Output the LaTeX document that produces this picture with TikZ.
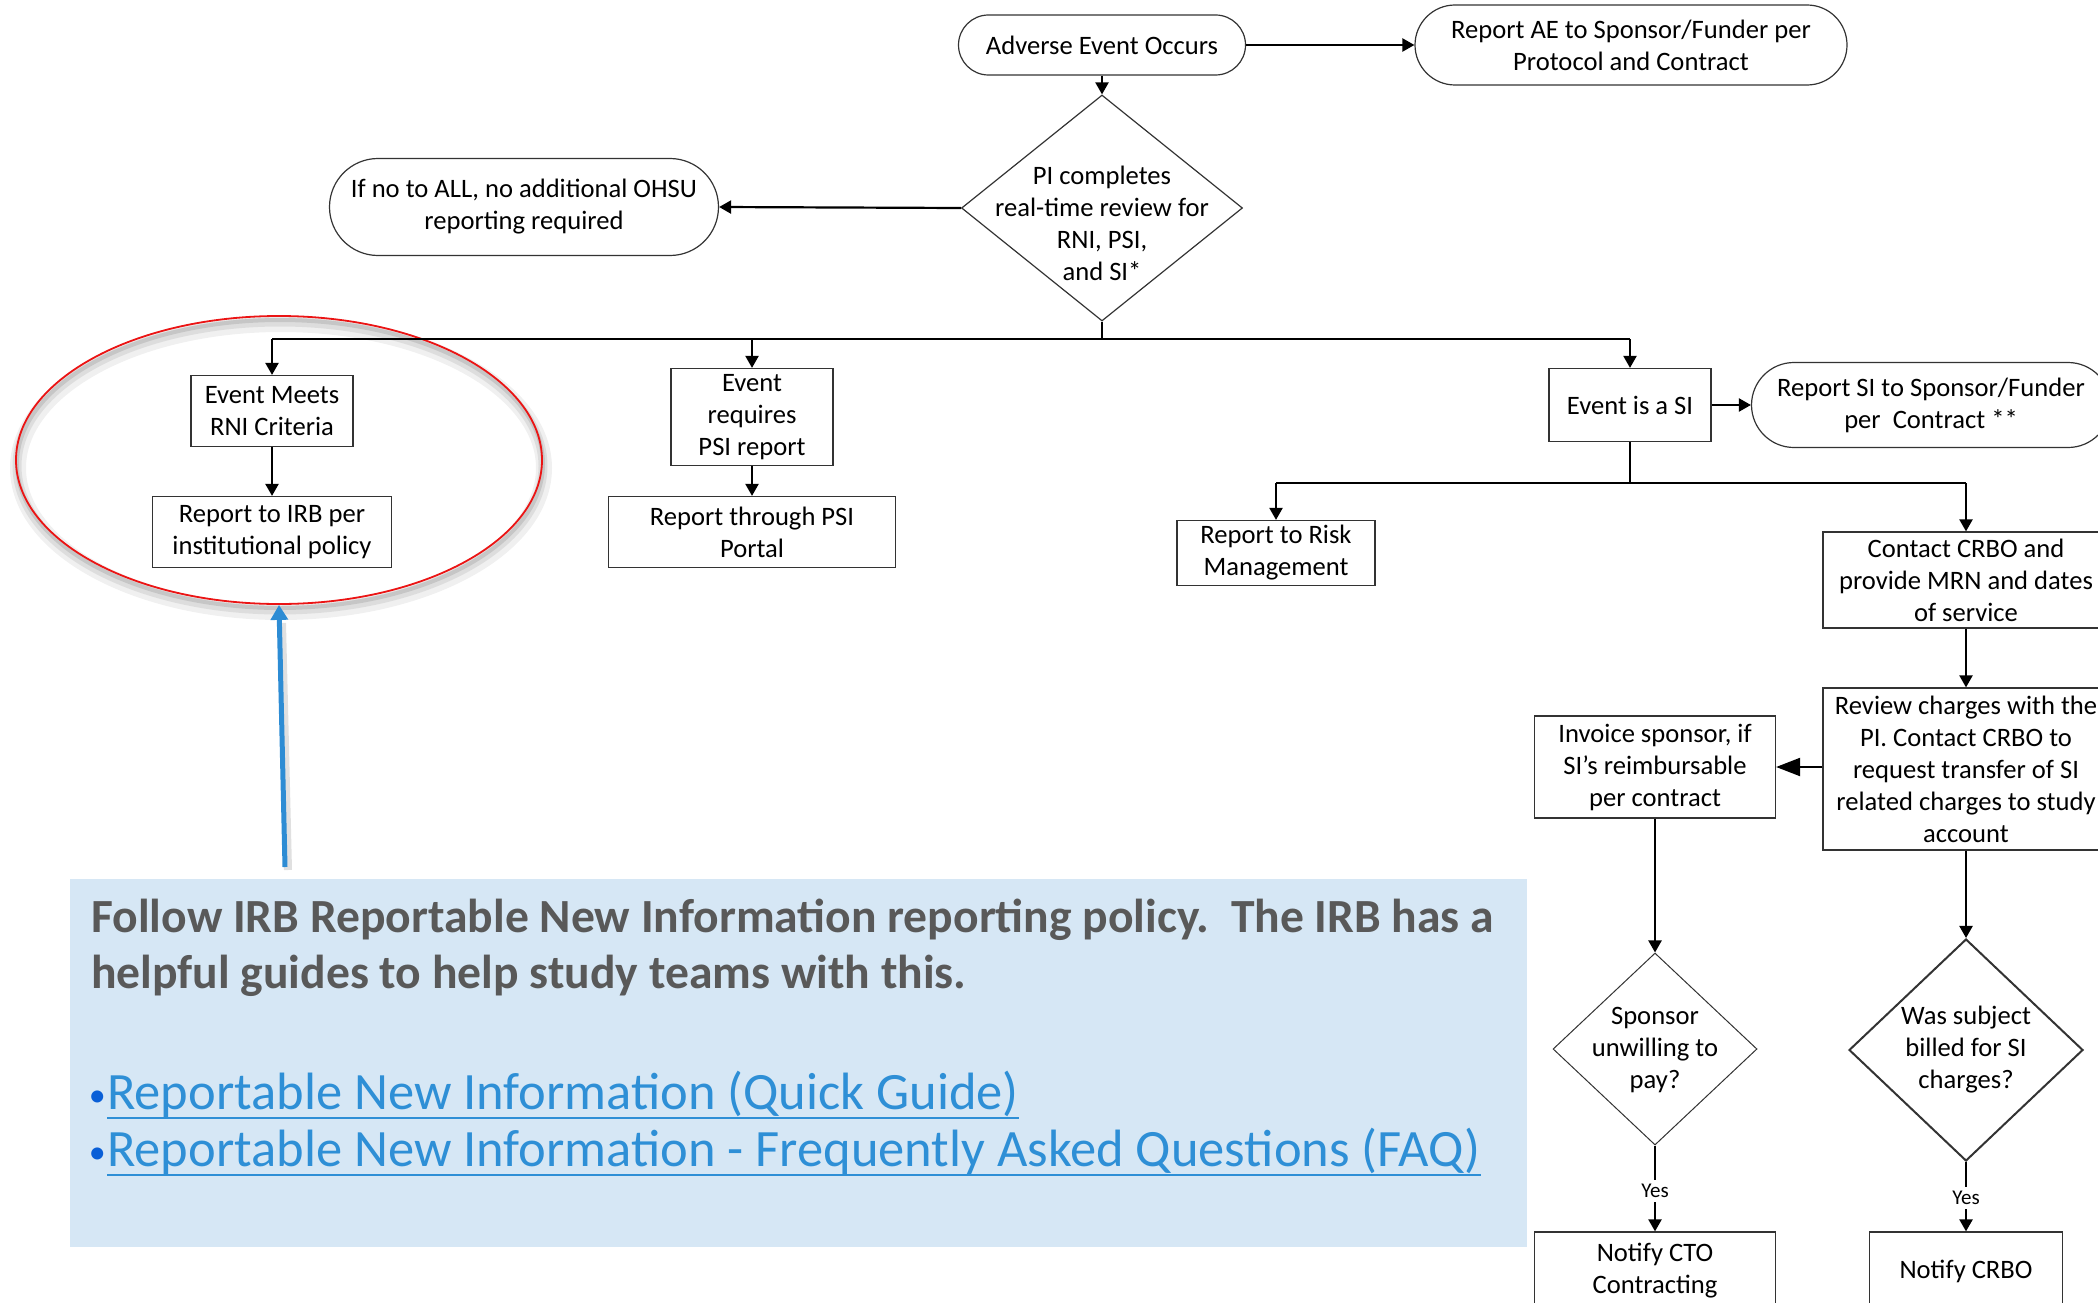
\documentclass[tikz,border=0pt]{standalone}
\usepackage{fontspec}
\setmainfont{Carlito}
\usetikzlibrary{arrows.meta,shapes.geometric,shapes.misc}
\definecolor{linkblue}{RGB}{46,143,214}
\definecolor{bulletblue}{RGB}{10,95,215}
\definecolor{notefill}{RGB}{214,231,245}
\definecolor{notegray}{RGB}{89,89,89}
\definecolor{ringred}{RGB}{235,20,20}
\definecolor{pointerblue}{RGB}{45,140,212}
\begin{document}
\begin{tikzpicture}[x=1pt,y=-1pt,
  lbl/.style={font=\fontsize{26.6}{32}\selectfont, align=center, inner sep=0pt},
  box/.style={lbl, draw=black!80, line width=1.2pt, rectangle},
  pill/.style={lbl, draw=black!80, line width=1.2pt, rounded rectangle},
  dia/.style={draw=black!80, line width=1.2pt, diamond, inner sep=0pt},
  conn/.style={line width=2.2pt},
  flow/.style={conn, -{Triangle[length=12pt,width=13pt]}},
  yeslbl/.style={font=\fontsize{21}{24}\selectfont, inner sep=4pt},
  notetext/.style={anchor=base west, inner sep=0pt, text=notegray, font=\bfseries\fontsize{47.6}{56}\selectfont},
  linktext/.style={anchor=base west, inner sep=0pt, text=linkblue, font=\fontsize{52.5}{60}\selectfont},
  bullettext/.style={anchor=base east, inner sep=0pt, text=bulletblue, font=\fontsize{34}{40}\selectfont},
]
\clip (0,0) rectangle (2098,1303);

% ---- highlighted note with the IRB guidance ----
\node[fill=notefill, anchor=north west, inner sep=0pt, minimum width=1457pt, minimum height=368pt] (note) at (70,879) {};
\node[notetext] (n1) at (91,932) {Follow IRB Reportable New Information reporting policy.\ \ The IRB has a};
\node[notetext] (n2) at (91,988) {helpful guides to help study teams with this.};
\node[bullettext] (b1) at (106,1106) {•};
\node[linktext] (q1) at (107,1109) {Reportable New Information (Quick Guide)};
\draw[linkblue, line width=2.6pt] ([yshift=-9pt]q1.base west) -- ([yshift=-9pt]q1.base east);
\node[bullettext] (b2) at (106,1163) {•};
\node[linktext] (q2) at (107,1166) {Reportable New Information - Frequently Asked Questions (FAQ)};
\draw[linkblue, line width=2.6pt] ([yshift=-9pt]q2.base west) -- ([yshift=-9pt]q2.base east);

% ---- red ring around the RNI branch, with soft shadow ----
\draw[black, opacity=0.06, line width=16pt] (281,468) ellipse [x radius=263pt, y radius=144pt];
\draw[black, opacity=0.08, line width=9pt] (280,466) ellipse [x radius=263pt, y radius=144pt];
\draw[black, opacity=0.10, line width=4pt] (280,464) ellipse [x radius=263pt, y radius=144pt];
\node[ellipse, draw=ringred, line width=1.8pt, minimum width=526pt, minimum height=288pt, inner sep=0pt] (ring) at (279,460) {};

% ---- pointer from the note up to the ring ----
\coordinate (ptrfoot) at (285,867);
\draw[black, opacity=0.12, line width=8pt] ([xshift=3pt,yshift=-3pt]ptrfoot) -- ([xshift=3pt,yshift=-18pt]ring.south);
\draw[pointerblue, line width=5pt, -{Triangle[length=15pt,width=17pt]}] (ptrfoot) -- (ring.south);

% ---- flowchart nodes ----
\node[pill, minimum width=287pt, minimum height=60pt] (ae) at (1102,45) {Adverse Event Occurs};
\node[pill, minimum width=432pt, minimum height=80pt] (aesp) at (1631,45) {Report AE to Sponsor/Funder per\\Protocol and Contract};
\node[dia, minimum width=281pt, minimum height=226pt] (rev) at (1102,208) {};
\node[lbl] (revtxt) at (1102,223) {PI completes\\real-time review for\\RNI, PSI,\\and SI*};
\node[pill, minimum width=389pt, minimum height=97pt] (noall) at (524,207) {If no to ALL, no additional OHSU\\reporting required};

\node[box, minimum width=162pt, minimum height=71pt] (rni) at (272,411) {Event Meets\\RNI Criteria};
\node[box, minimum width=239pt, minimum height=71pt] (irb) at (272,532) {Report to IRB per\\institutional policy};
\node[box, minimum width=162pt, minimum height=97pt] (psi) at (752,417) {Event\\requires\\PSI report};
\node[box, minimum width=287pt, minimum height=71pt] (psip) at (752,532) {Report through PSI\\Portal};
\node[box, minimum width=162pt, minimum height=73pt] (si) at (1630,405) {Event is a SI};
\node[pill, minimum width=359pt, minimum height=85pt] (sisp) at (1931,405) {Report SI to Sponsor/Funder\\per\ \ Contract **};

\node[box, minimum width=198pt, minimum height=65pt] (risk) at (1276,553) {Report to Risk\\Management};
\node[box, minimum width=286pt, minimum height=96pt] (crbo) at (1966,580) {Contact CRBO and\\provide MRN and dates\\of service};
\node[box, minimum width=286pt, minimum height=162pt] (revc) at (1966,769) {Review charges with the\\PI. Contact CRBO to\\request transfer of SI\\related charges to study\\account};
\node[box, minimum width=241pt, minimum height=102pt] (inv) at (1655,767) {Invoice sponsor, if\\SI’s reimbursable\\per contract};

\node[dia, line width=1pt, minimum width=204pt, minimum height=192pt] (spd) at (1655,1049) {};
\node[lbl] (spdtxt) at (1655,1050) {Sponsor\\unwilling to\\pay?};
\node[yeslbl] (yes1) at (1655,1191) {Yes};
\node[box, minimum width=241pt, minimum height=78pt] (cto) at (1655,1271) {Notify CTO\\Contracting};

\node[dia, line width=2pt, minimum width=234pt, minimum height=222pt] (wsd) at (1966,1050) {};
\node[lbl] (wsdtxt) at (1966,1050) {Was subject\\billed for SI\\charges?};
\node[yeslbl] (yes2) at (1966,1198) {Yes};
\node[box, minimum width=193pt, minimum height=78pt] (ncrbo) at (1966,1271) {Notify CRBO};

% ---- connectors ----
\draw[flow] (ae.east) -- (aesp.west);
\draw[flow] (ae.south) -- (rev.north);
\draw[flow] (rev.west) -- (noall.east);

\coordinate (bus) at (1102,339);
\draw[conn] (rev.south) -- (bus);
\draw[conn] (rni.north |- bus) -- (si.north |- bus);
\draw[flow] (rni.north |- bus) -- (rni.north);
\draw[flow] (psi.north |- bus) -- (psi.north);
\draw[flow] (si.north |- bus) -- (si.north);
\draw[flow] (rni) -- (irb);
\draw[flow] (psi) -- (psip);
\draw[flow] (si.east) -- (sisp.west);

\coordinate (sibus) at (1630,483);
\draw[conn] (si.south) -- (sibus);
\draw[conn] (risk.north |- sibus) -- (crbo.north |- sibus);
\draw[flow] (risk.north |- sibus) -- (risk.north);
\draw[flow] (crbo.north |- sibus) -- (crbo.north);
\draw[flow] (crbo) -- (revc);
\draw[conn, -{Triangle[length=24pt,width=18pt]}] (revc.west |- inv.east) -- (inv.east);

\draw[flow] (inv) -- (spd);
\draw[conn] (spd.south) -- (yes1.north);
\draw[flow] (yes1.south) -- (cto.north);
\draw[flow] (revc) -- (wsd);
\draw[conn] (wsd.south) -- (yes2.north);
\draw[flow] (yes2.south) -- (ncrbo.north);
\end{tikzpicture}
\end{document}
